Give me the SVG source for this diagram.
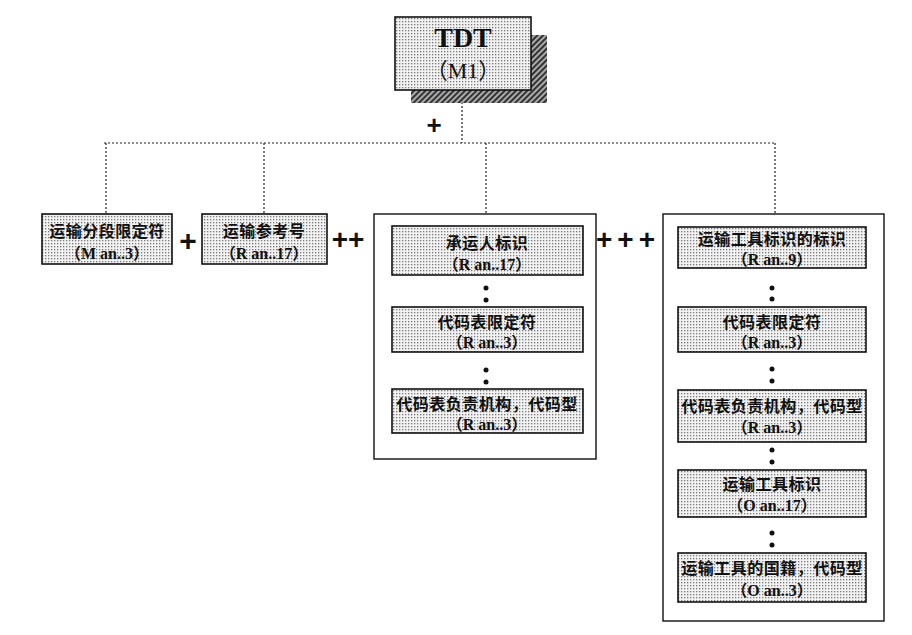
<svg xmlns="http://www.w3.org/2000/svg" width="912" height="635" viewBox="0 0 912 635">
<style>
.bx{fill:url(#dots);stroke:#111;stroke-width:1.6}
.grp{fill:none;stroke:#111;stroke-width:1.4}
.t{font-family:"Noto Sans CJK SC","Noto Sans",sans-serif;font-size:16px;font-weight:bold;fill:#111;text-anchor:middle;letter-spacing:0.5px}
.s{font-family:"Liberation Serif","Noto Sans CJK SC",serif;font-size:16px;font-weight:bold;fill:#111;text-anchor:middle}
.p{font-family:"Liberation Sans",sans-serif;font-weight:bold;fill:#111;text-anchor:middle}
.c{fill:none;stroke:#222;stroke-width:1.2;stroke-dasharray:2 2}
.d{fill:#111}
</style>
<defs>
<pattern id="dots" width="3" height="3" patternUnits="userSpaceOnUse">
<rect width="3" height="3" fill="#f2f2f2"/>
<rect width="1.3" height="1.3" fill="#7a7a7a"/>
</pattern>
<pattern id="hatch" width="4" height="4" patternUnits="userSpaceOnUse" patternTransform="rotate(45)">
<rect width="4" height="4" fill="#aaa"/>
<rect width="2" height="4" fill="#333"/>
</pattern>
</defs>
<rect width="912" height="635" fill="#fff"/>
<g id="connectors">
<line class="c" x1="462" y1="90" x2="462" y2="143"/>
<line class="c" x1="104" y1="143" x2="775" y2="143"/>
<line class="c" x1="106" y1="143" x2="106" y2="214"/>
<line class="c" x1="264" y1="143" x2="264" y2="214"/>
<line class="c" x1="486" y1="143" x2="486" y2="214"/>
<line class="c" x1="775" y1="143" x2="775" y2="214"/>
</g>
<g id="tdt">
<rect x="411" y="35" width="136" height="68" fill="url(#hatch)"/>
<rect x="395" y="17" width="136" height="73" class="bx"/>
<text x="463" y="47" style="font-family:'Liberation Serif',serif;font-size:28px;font-weight:bold;fill:#111;text-anchor:middle">TDT</text>
<text x="463" y="78" style="font-family:'Liberation Serif','Noto Sans CJK SC',serif;font-size:22px;fill:#111;text-anchor:middle">（M1）</text>
<text class="p" x="434" y="134" font-size="26">+</text>
</g>
<g id="n1">
<rect x="42" y="214" width="130" height="50" class="bx"/>
<text class="t" x="107" y="237">运输分段限定符</text>
<text class="s" x="107" y="259">（M an..3）</text>
</g>
<text class="p" x="188" y="251" font-size="30">+</text>
<g id="n2">
<rect x="202" y="214" width="125" height="50" class="bx"/>
<text class="t" x="264" y="237">运输参考号</text>
<text class="s" x="264" y="259">（R an..17）</text>
</g>
<text class="p" x="348" y="249" font-size="28">++</text>
<g id="g3">
<rect x="374" y="214" width="222" height="245" class="grp"/>
<g id="n3a">
<rect x="392" y="226" width="191" height="49" class="bx"/>
<text class="t" x="487" y="249">承运人标识</text>
<text class="s" x="487" y="270">（R an..17）</text>
</g>
<circle class="d" cx="486" cy="288" r="2.5"/>
<circle class="d" cx="486" cy="300" r="2.5"/>
<g id="n3b">
<rect x="392" y="307" width="191" height="45" class="bx"/>
<text class="t" x="487" y="328">代码表限定符</text>
<text class="s" x="487" y="348">（R an..3）</text>
</g>
<circle class="d" cx="486" cy="370" r="2.5"/>
<circle class="d" cx="486" cy="382" r="2.5"/>
<g id="n3c">
<rect x="392" y="389" width="191" height="44" class="bx"/>
<text class="t" x="487" y="410">代码表负责机构，代码型</text>
<text class="s" x="487" y="430">（R an..3）</text>
</g>
</g>
<text class="p" x="628" y="249" font-size="28" letter-spacing="5">+++</text>
<g id="g4">
<rect x="663" y="214" width="221" height="407" class="grp"/>
<g id="n4a">
<rect x="678" y="227" width="188" height="41" class="bx"/>
<text class="t" x="772" y="245">运输工具标识的标识</text>
<text class="s" x="772" y="265">（R an..9）</text>
</g>
<circle class="d" cx="772" cy="288" r="2.5"/>
<circle class="d" cx="772" cy="299" r="2.5"/>
<g id="n4b">
<rect x="678" y="307" width="188" height="45" class="bx"/>
<text class="t" x="772" y="328">代码表限定符</text>
<text class="s" x="772" y="348">（R an..3）</text>
</g>
<circle class="d" cx="772" cy="369" r="2.5"/>
<circle class="d" cx="772" cy="381" r="2.5"/>
<g id="n4c">
<rect x="678" y="390" width="188" height="52" class="bx"/>
<text class="t" x="772" y="412">代码表负责机构，代码型</text>
<text class="s" x="772" y="433">（R an..3）</text>
</g>
<circle class="d" cx="772" cy="450" r="2.5"/>
<circle class="d" cx="772" cy="462" r="2.5"/>
<g id="n4d">
<rect x="678" y="470" width="188" height="47" class="bx"/>
<text class="t" x="772" y="490">运输工具标识</text>
<text class="s" x="772" y="511">（O an..17）</text>
</g>
<circle class="d" cx="772" cy="533" r="2.5"/>
<circle class="d" cx="772" cy="545" r="2.5"/>
<g id="n4e">
<rect x="678" y="553" width="188" height="49" class="bx"/>
<text class="t" x="772" y="574">运输工具的国籍，代码型</text>
<text class="s" x="772" y="596">（O an..3）</text>
</g>
</g>
</svg>
